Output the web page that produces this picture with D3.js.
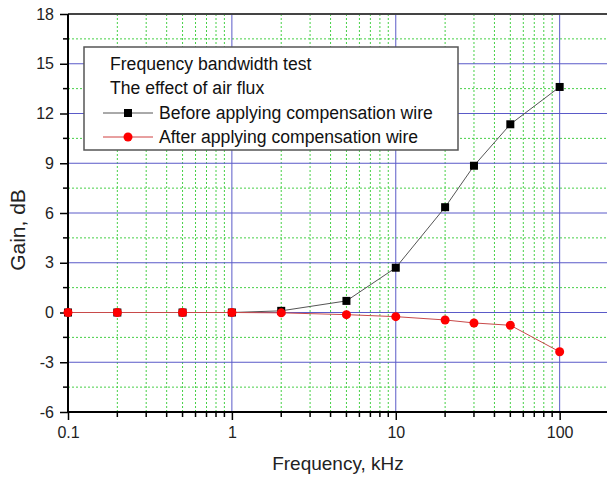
<!DOCTYPE html>
<html>
<head>
<meta charset="utf-8">
<script src="https://cdn.jsdelivr.net/npm/d3@7"></script>
<style>
  body { margin: 0; background: #fff; }
  svg { display: block; font-family: "Liberation Sans", Arial, sans-serif; }
</style>
</head>
<body>
<div id="chart"></div>
<script>
const freqs = [0.1, 0.2, 0.5, 1, 2, 5, 10, 20, 30, 50, 100];
const gainBefore = [0, 0, 0, 0, 0.1, 0.7, 2.7, 6.35, 8.85, 11.35, 13.6];
const gainAfter = [0, 0, 0, 0, -0.02, -0.13, -0.25, -0.45, -0.63, -0.77, -2.37];
const xTicks = [0.1, 1, 10, 100];
const yTicks = [-6, -3, 0, 3, 6, 9, 12, 15, 18];
const legendTitles = ["Frequency bandwidth test", "The effect of air flux"];
const seriesNames = ["Before applying compensation wire", "After applying compensation wire"];

const width = 607, height = 477;
const margin = { top: 14, right: -2, bottom: 65, left: 68 };

const svg = d3.select("#chart").append("svg")
    .attr("width", width)
    .attr("height", height);

const x = d3.scaleLog()
    .domain([0.1, 200])
    .range([margin.left, width - margin.right]);

const y = d3.scaleLinear()
    .domain([-6, 18])
    .range([height - margin.bottom, margin.top]);

const x0 = margin.left, x1 = width - margin.right;
const y0 = height - margin.bottom, y1 = margin.top;

// minor positions
const xMinor = [];
[0.1, 1, 10, 100].forEach(dec => {
    for (let k = 2; k <= 9; k++) if (dec * k <= 200) xMinor.push(dec * k);
});
const yMinor = yTicks.slice(0, -1).map(v => v + 1.5);

const grid = svg.append("g");

// minor grid (green dotted)
grid.selectAll(".gx").data(xMinor).enter().append("line")
    .attr("x1", d => x(d)).attr("x2", d => x(d))
    .attr("y1", y0).attr("y2", y1)
    .attr("stroke", "#46d046").attr("stroke-width", 1)
    .attr("stroke-dasharray", "2,2");
grid.selectAll(".gy").data(yMinor).enter().append("line")
    .attr("x1", x0).attr("x2", x1)
    .attr("y1", d => y(d)).attr("y2", d => y(d))
    .attr("stroke", "#46d046").attr("stroke-width", 1)
    .attr("stroke-dasharray", "2,2");

// major grid (blue)
grid.selectAll(".mx").data(xTicks.slice(1)).enter().append("line")
    .attr("x1", d => x(d)).attr("x2", d => x(d))
    .attr("y1", y0).attr("y2", y1)
    .attr("stroke", "#5a5ac8").attr("stroke-width", 1);
grid.selectAll(".my").data(yTicks.slice(1, -1)).enter().append("line")
    .attr("x1", x0).attr("x2", x1)
    .attr("y1", d => y(d)).attr("y2", d => y(d))
    .attr("stroke", "#5a5ac8").attr("stroke-width", 1);

// top frame
svg.append("line")
    .attr("x1", x0).attr("x2", x1)
    .attr("y1", y1).attr("y2", y1)
    .attr("stroke", "#444").attr("stroke-width", 2);

// axes
const xAxis = svg.append("g")
    .attr("transform", `translate(0,${y0})`)
    .call(d3.axisBottom(x).tickValues(xTicks).tickSize(8).tickPadding(7)
        .tickFormat(d => String(d)));
xAxis.selectAll("text").attr("font-size", "16px").attr("fill", "#222")
    .attr("font-family", "Liberation Sans, Arial, sans-serif");
xAxis.select(".domain").attr("stroke-width", 2).attr("d", `M${x0},0H${x1}`);
xAxis.selectAll(".tick line").attr("stroke-width", 1.5);
svg.append("g")
    .attr("transform", `translate(0,${y0})`)
    .selectAll("line").data(xMinor).enter().append("line")
    .attr("x1", d => x(d)).attr("x2", d => x(d))
    .attr("y1", 0).attr("y2", 5)
    .attr("stroke", "#000").attr("stroke-width", 1.5);

const yAxis = svg.append("g")
    .attr("transform", `translate(${x0},0)`)
    .call(d3.axisLeft(y).tickValues(yTicks).tickSize(8).tickPadding(6)
        .tickFormat(d => String(d)));
yAxis.selectAll("text").attr("font-size", "16px").attr("fill", "#222")
    .attr("font-family", "Liberation Sans, Arial, sans-serif");
yAxis.select(".domain").attr("stroke-width", 2).attr("d", `M0,${y0}V${y1}`);
yAxis.selectAll(".tick line").attr("stroke-width", 1.5);
svg.append("g")
    .attr("transform", `translate(${x0},0)`)
    .selectAll("line").data(yMinor).enter().append("line")
    .attr("x1", -5).attr("x2", 0)
    .attr("y1", d => y(d)).attr("y2", d => y(d))
    .attr("stroke", "#000").attr("stroke-width", 1.5);

// titles
svg.append("text")
    .attr("x", 338).attr("y", 470)
    .attr("text-anchor", "middle")
    .attr("font-size", "19px").attr("fill", "#222")
    .text("Frequency, kHz");
svg.append("text")
    .attr("transform", "translate(25,230) rotate(-90)")
    .attr("text-anchor", "middle")
    .attr("font-size", "21px").attr("fill", "#222")
    .text("Gain, dB");

// series
const before = freqs.map((f, i) => [f, gainBefore[i]]);
const after = freqs.map((f, i) => [f, gainAfter[i]]);
const line = d3.line().x(d => x(d[0])).y(d => y(d[1]));

svg.append("path").datum(before)
    .attr("d", line).attr("fill", "none")
    .attr("stroke", "#555").attr("stroke-width", 1);
svg.selectAll(".sq").data(before).enter().append("rect")
    .attr("x", d => x(d[0]) - 4).attr("y", d => y(d[1]) - 4)
    .attr("width", 8).attr("height", 8)
    .attr("fill", "#000");

svg.append("path").datum(after)
    .attr("d", line).attr("fill", "none")
    .attr("stroke", "#c84a4a").attr("stroke-width", 1);
svg.selectAll(".ci").data(after).enter().append("circle")
    .attr("cx", d => x(d[0])).attr("cy", d => y(d[1]))
    .attr("r", 4.5)
    .attr("fill", "#ff0000");

// legend
const lg = svg.append("g").attr("transform", "translate(84,47)");
lg.append("rect")
    .attr("width", 374).attr("height", 103)
    .attr("fill", "#fff").attr("stroke", "#555").attr("stroke-width", 1.5);
legendTitles.forEach((t, i) => {
    lg.append("text")
        .attr("x", 26).attr("y", 23 + i * 24.3)
        .attr("font-size", "17.6px").attr("fill", "#111")
        .text(t);
});
const sym = [
    { color: "#555", fill: "#000", shape: "square" },
    { color: "#d04040", fill: "#ff0000", shape: "circle" }
];
seriesNames.forEach((t, i) => {
    const yy = 66 + i * 24;
    lg.append("line")
        .attr("x1", 19).attr("x2", 69).attr("y1", yy).attr("y2", yy)
        .attr("stroke", sym[i].color).attr("stroke-width", 1);
    if (sym[i].shape === "square") {
        lg.append("rect").attr("x", 40).attr("y", yy - 4)
            .attr("width", 8).attr("height", 8).attr("fill", sym[i].fill);
    } else {
        lg.append("circle").attr("cx", 44).attr("cy", yy)
            .attr("r", 4.5).attr("fill", sym[i].fill);
    }
    lg.append("text")
        .attr("x", 75).attr("y", yy + 6)
        .attr("font-size", "17.6px").attr("fill", "#111")
        .text(t);
});
</script>
</body>
</html>
